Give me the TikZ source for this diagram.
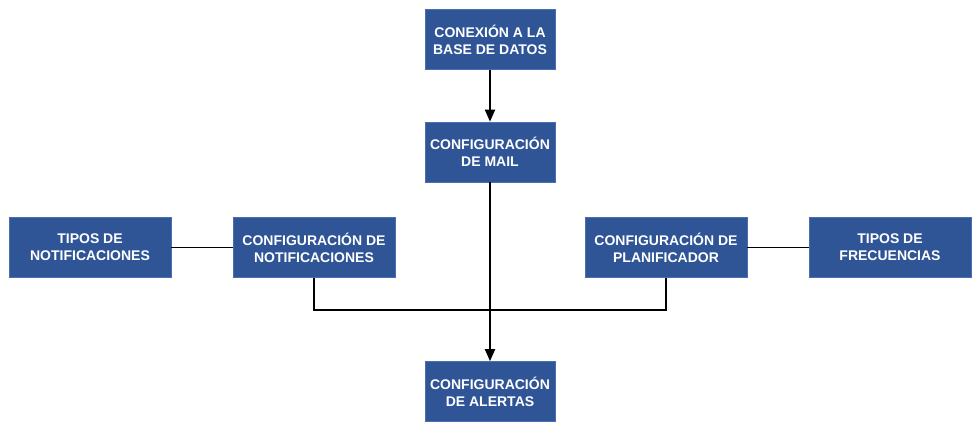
\documentclass[tikz,border=0pt]{standalone}
\usepackage{fontspec}
\setmainfont{Liberation Sans}
\usetikzlibrary{arrows.meta}
\definecolor{boxblue}{HTML}{2F5597}
\definecolor{boxedge}{HTML}{4A6FAE}
\begin{document}
\begin{tikzpicture}[x=1pt,y=-1pt,
  blk/.style={rectangle, fill=boxblue, draw=boxedge, line width=0.6pt, text=white,
    font=\fontsize{14}{17}\selectfont\bfseries, align=center, inner sep=0pt,
    minimum height=60pt},
  narrow/.style={blk, minimum width=130pt},
  wide/.style={blk, minimum width=162pt},
  conn/.style={draw=black, line width=1.8pt},
  arr/.style={conn, -{Triangle[length=12pt,width=10pt]}}]
\useasboundingbox (0,0) rectangle (979,433);
\node[narrow] (db) at (490,39.5) {CONEXIÓN A LA\\BASE DE DATOS};
\node[narrow] (mail) at (490,152) {CONFIGURACIÓN\\DE MAIL};
\node[wide] (tn) at (90,247.5) {TIPOS DE\\NOTIFICACIONES};
\node[wide] (cn) at (314,247.5) {CONFIGURACIÓN DE\\NOTIFICACIONES};
\node[wide] (cp) at (666,247.5) {CONFIGURACIÓN DE\\PLANIFICADOR};
\node[wide] (tf) at (890,247.5) {TIPOS DE\\FRECUENCIAS};
\node[narrow] (al) at (490,391.5) {CONFIGURACIÓN\\DE ALERTAS};
\coordinate (jn) at (314,310);
\coordinate (jp) at (666,310);
\draw[arr] (db) -- (mail);
\draw[arr] (mail) -- (al);
\draw[conn] (tn) -- (cn);
\draw[conn] (cp) -- (tf);
\draw[conn] (cn.south) -- (jn) -- (jp) -- (cp.south);
\end{tikzpicture}
\end{document}
